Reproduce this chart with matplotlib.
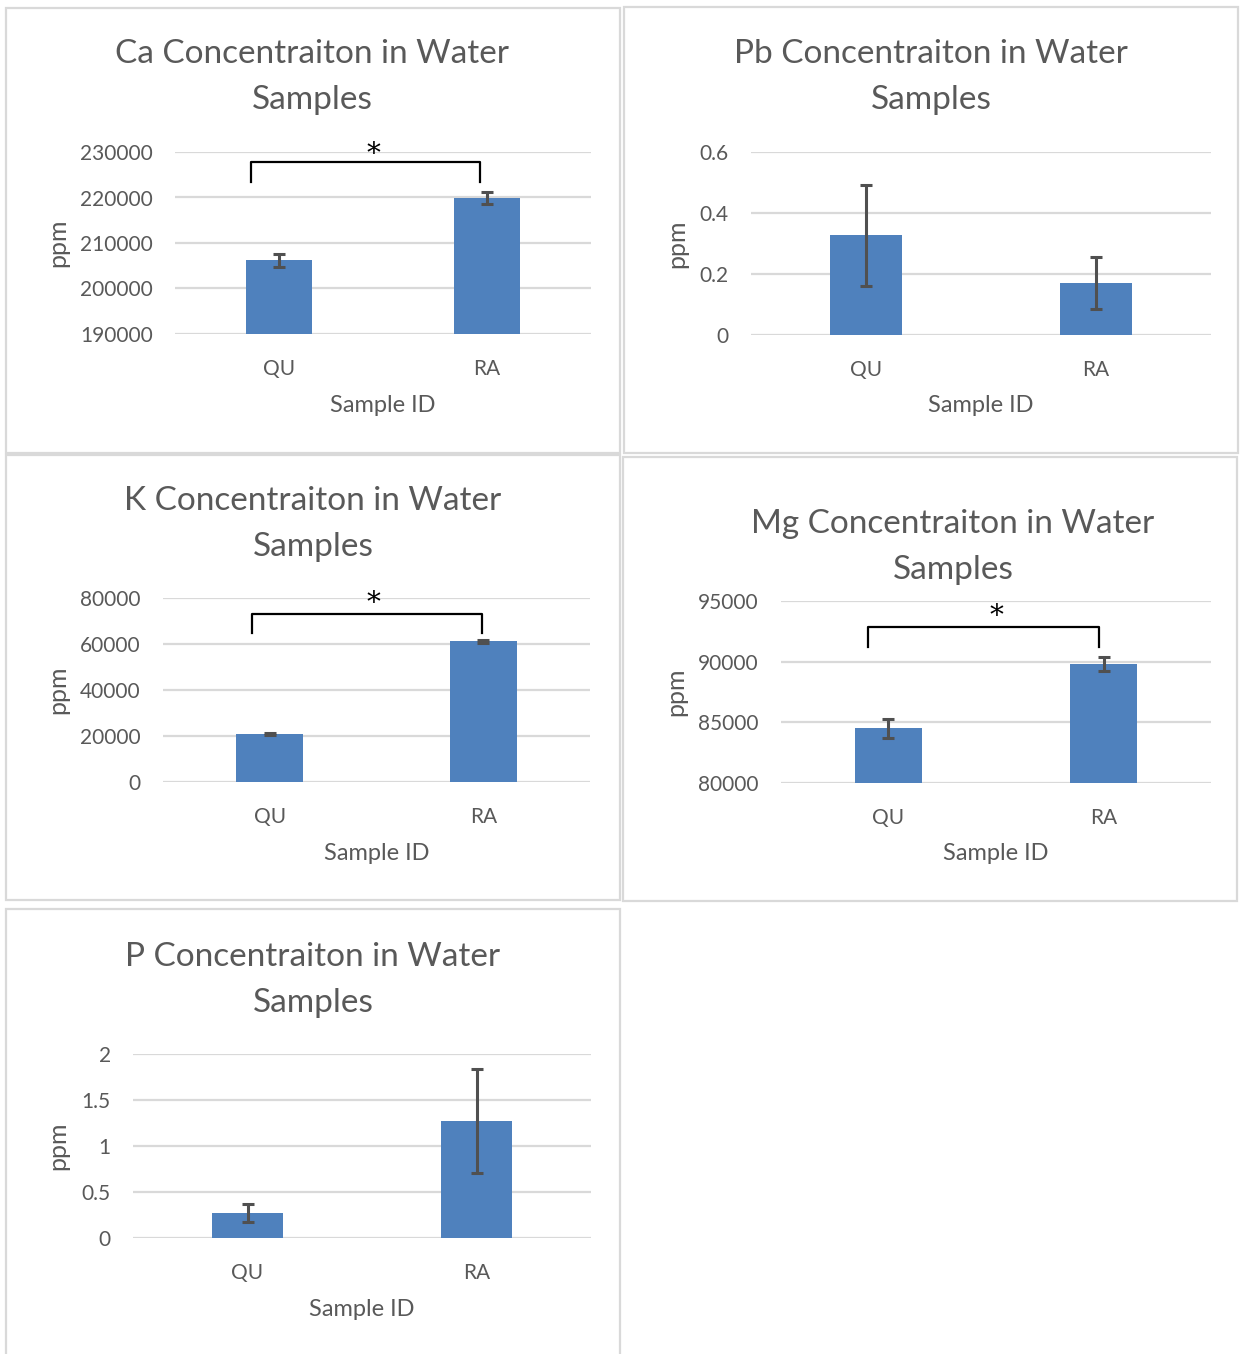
import matplotlib
matplotlib.use("Agg")
import matplotlib.pyplot as plt
from matplotlib.patches import Rectangle

W, H = 1246, 1354

samples = ["QU", "RA"]

ca_mean = [206200, 219900]
ca_err = [1400, 1400]
ca_ticks = [190000, 200000, 210000, 220000, 230000]

pb_mean = [0.327, 0.170]
pb_err = [0.165, 0.086]
pb_ticks = [0, 0.2, 0.4, 0.6]
pb_labels = ["0", "0.2", "0.4", "0.6"]

k_mean = [21000, 61100]
k_err = [500, 700]
k_ticks = [0, 20000, 40000, 60000, 80000]

mg_mean = [84500, 89800]
mg_err = [800, 600]
mg_ticks = [80000, 85000, 90000, 95000]

p_mean = [0.276, 1.273]
p_err = [0.097, 0.563]
p_ticks = [0, 0.5, 1, 1.5, 2]
p_labels = ["0", "0.5", "1", "1.5", "2"]

TXT = "#595959"
GRID = "#D9D9D9"
BAR = "#4F81BD"
ERR = "#505050"
FONT = "Lato"

plt.rcParams['font.family'] = [FONT, 'DejaVu Sans']


def fx(x):
    return x / W


def fy(y):
    return 1 - y / H


# panel layout in pixels: box, axes (l, t, r, b), title centre, label rows
panels = [
    dict(name="Ca", mean=ca_mean, err=ca_err, ticks=ca_ticks, labels=None,
         box=(6, 8, 620, 453), ax=(175, 152, 591, 334), tx=312, ty=(54, 100),
         ylab_x=58, cat_y=367, xl_y=406, width=0.32,
         bracket=(-0.135, 0.966, 223450, 227700), star=(0.452, 229560)),
    dict(name="Pb", mean=pb_mean, err=pb_err, ticks=pb_ticks, labels=pb_labels,
         box=(624, 7, 1238, 453), ax=(751, 152, 1211, 335), tx=931, ty=(54, 100),
         ylab_x=677, cat_y=365, xl_y=406, width=0.313, bracket=None, star=None),
    dict(name="K", mean=k_mean, err=k_err, ticks=k_ticks, labels=None,
         box=(6, 455, 620, 900), ax=(163, 598, 590, 782), tx=313, ty=(501, 547),
         ylab_x=58, cat_y=812, xl_y=853, width=0.314,
         bracket=(-0.083, 0.994, 64750, 73180), star=(0.484, 77660)),
    dict(name="Mg", mean=mg_mean, err=mg_err, ticks=mg_ticks, labels=None,
         box=(623, 457, 1237, 901), ax=(781, 601, 1211, 783), tx=953, ty=(524, 570),
         ylab_x=676, cat_y=814, xl_y=854, width=0.31,
         bracket=(-0.095, 0.979, 91230, 92826), star=(0.5, 93760)),
    dict(name="P", mean=p_mean, err=p_err, ticks=p_ticks, labels=p_labels,
         box=(6, 909, 620, 1362), ax=(133, 1054, 591, 1238), tx=313, ty=(957, 1003),
         ylab_x=58, cat_y=1269, xl_y=1309, width=0.31, bracket=None, star=None),
]

fig = plt.figure(figsize=(W / 100, H / 100), dpi=100)

for p in panels:
    bx0, by0, bx1, by1 = p["box"]
    fig.add_artist(Rectangle((fx(bx0), fy(by1)), (bx1 - bx0) / W, (by1 - by0) / H,
                             transform=fig.transFigure, fill=False,
                             ec=GRID, lw=1.6))

    l, t, r, b = p["ax"]
    ax = fig.add_axes([fx(l), fy(b), (r - l) / W, (b - t) / H])
    xs = list(range(len(samples)))
    ax.bar(xs, p["mean"], width=p["width"], color=BAR, zorder=2,
           yerr=p["err"], error_kw=dict(ecolor=ERR, elinewidth=2.2,
                                        capsize=4.5, capthick=2.2, zorder=3))
    ax.set_xlim(-0.5, 1.5)
    ax.set_ylim(p["ticks"][0], p["ticks"][-1])
    ax.set_yticks(p["ticks"])
    if p["labels"]:
        ax.set_yticklabels(p["labels"])
    ax.set_xticks(xs)
    ax.set_xticklabels(samples)
    ax.tick_params(length=0, colors=TXT, labelsize=15)
    ax.tick_params(axis='y', pad=16)
    ax.tick_params(axis='x', pad=18)
    ax.yaxis.grid(True, color=GRID, lw=1.6, zorder=0)
    ax.set_axisbelow(True)
    for s in ax.spines.values():
        s.set_visible(False)
    ax.patch.set_alpha(0)

    fig.text(fx(p["tx"]), fy(p["ty"][0]),
             f"{p['name']} Concentraiton in Water",
             ha="center", va="center", fontsize=24, color=TXT)
    fig.text(fx(p["tx"]), fy(p["ty"][1]), "Samples",
             ha="center", va="center", fontsize=24, color=TXT)
    fig.text(fx((l + r) / 2), fy(p["xl_y"]), "Sample ID",
             ha="center", va="center", fontsize=17, color=TXT)
    fig.text(fx(p["ylab_x"]), fy((t + b) / 2), "ppm", rotation=90,
             ha="center", va="center", fontsize=18, color=TXT)

    if p["bracket"]:
        x0, x1, ylo, yhi = p["bracket"]
        ax.plot([x0, x0, x1, x1], [ylo, yhi, yhi, ylo], color="black",
                lw=1.6, solid_joinstyle="round", clip_on=False, zorder=4)
        sx, sy = p["star"]
        ax.text(sx, sy, "*", ha="center", va="center", fontsize=20,
                family="DejaVu Serif", color="black", clip_on=False)

fig.savefig("out.png", dpi=100)
